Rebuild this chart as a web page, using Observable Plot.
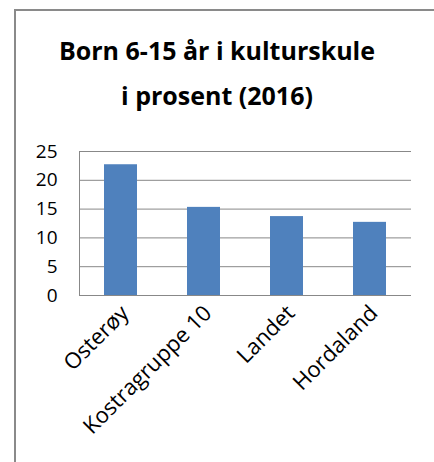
<!DOCTYPE html>
<html>
<head>
<meta charset="utf-8">
<script src="https://cdn.jsdelivr.net/npm/d3@7"></script>
<script src="https://cdn.jsdelivr.net/npm/@observablehq/plot@0.6"></script>
<style>
  html, body { margin: 0; padding: 0; background: #fff; }
  #wrap { position: relative; width: 434px; height: 462px; overflow: hidden; font-family: "Open Sans", sans-serif; }
  #border { position: absolute; left: 14px; top: 9px; width: 440px; height: 470px; border-left: 2px solid #8a8a8a; border-top: 2px solid #8a8a8a; box-sizing: border-box; }
  #title { position: absolute; left: 0; top: 28px; width: 434px; text-align: center; font-weight: 700; font-size: 25px; line-height: 45px; color: #000; }
  #chart { position: absolute; left: 0; top: 120px; }
</style>
</head>
<body>
<div id="wrap">
  <div id="border"></div>
  <div id="title">Born 6-15 år i kulturskule<br>i prosent (2016)</div>
  <div id="chart"></div>
</div>
<script>
const categories = ["Osterøy", "Kostragruppe 10", "Landet", "Hordaland"];
const values = [22.7, 15.3, 13.7, 12.7];
const yTicks = [0, 5, 10, 15, 20, 25];

const data = categories.map((c, i) => ({category: c, value: values[i]}));

const chart = Plot.plot({
  width: 434,
  height: 342,
  marginLeft: 79,
  marginRight: 23,
  marginTop: 31,
  marginBottom: 167,
  style: {fontFamily: "Open Sans, sans-serif", fontSize: "19px", color: "#000", background: "transparent"},
  x: {domain: categories, paddingInner: 0.6, paddingOuter: 0.3, label: null},
  y: {domain: [0, 25], ticks: yTicks, label: null},
  marks: [
    Plot.gridY(yTicks, {stroke: "#888", strokeOpacity: 1, strokeWidth: 1}),
    Plot.frame({anchor: "left", stroke: "#888"}),
    Plot.barY(data, {x: "category", y: "value", fill: "#4f81bd"}),
    Plot.axisY(yTicks, {tickSize: 0, tickPadding: 22, fontSize: 19, label: null}),
    Plot.axisX({tickSize: 0, tickRotate: -45, tickPadding: 4, dx: 4, dy: 10, fontSize: 22, label: null})
  ]
});
document.getElementById("chart").appendChild(chart);
</script>
</body>
</html>
